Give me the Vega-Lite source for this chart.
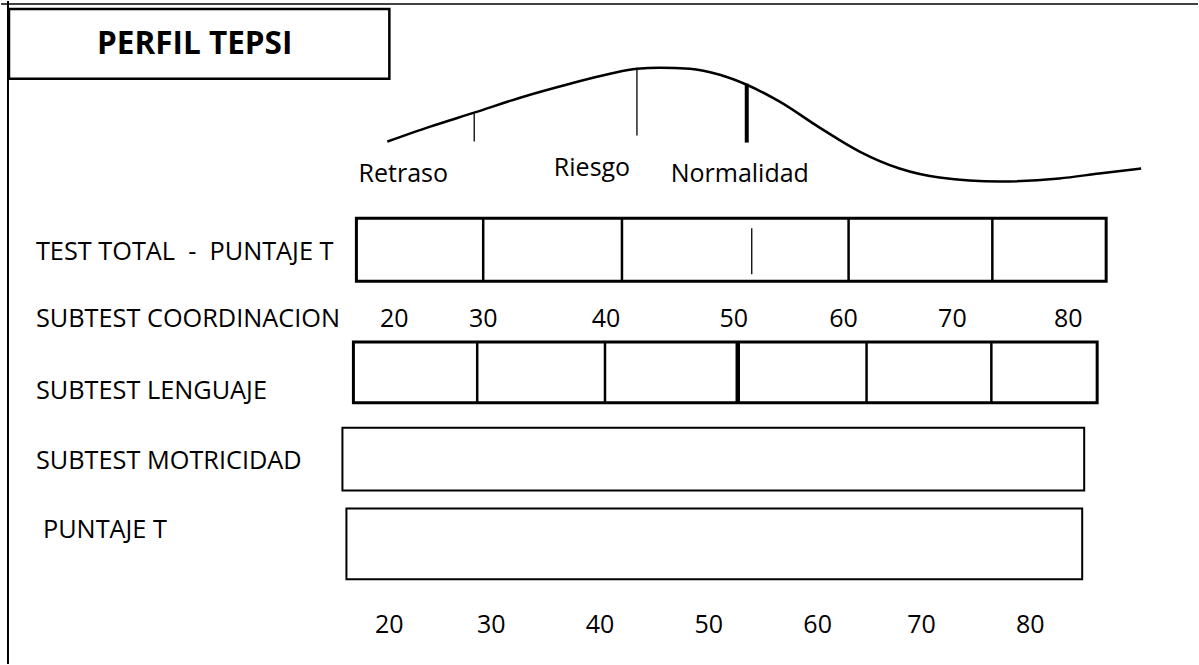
{
  "$schema": "https://vega.github.io/schema/vega-lite/v6.json",
  "width": 1199,
  "height": 665,
  "autosize": {"type": "fit", "contains": "padding"},
  "padding": 0,
  "background": "white",
  "config": {"view": {"stroke": null}},
  "datasets": {
    "boxes": [
      {"name": "title", "x": 8, "x2": 389, "y": 8, "y2": 78, "sw": 2.5},
      {"name": "total", "x": 356, "x2": 1107, "y": 218, "y2": 281, "sw": 3},
      {"name": "lenguaje", "x": 353, "x2": 1098, "y": 342, "y2": 403, "sw": 3},
      {"name": "motricidad", "x": 342, "x2": 1085, "y": 428, "y2": 491, "sw": 2},
      {"name": "puntaje", "x": 346, "x2": 1083, "y": 509, "y2": 580, "sw": 2}
    ],
    "rules": [
      {"x": 7, "x2": 7, "y": 0, "y2": 665, "sw": 2},
      {"x": 0, "x2": 1199, "y": 3, "y2": 3, "sw": 1.5},
      {"x": 483, "x2": 483, "y": 218, "y2": 281, "sw": 2.5},
      {"x": 622, "x2": 622, "y": 218, "y2": 281, "sw": 2.5},
      {"x": 849, "x2": 849, "y": 218, "y2": 281, "sw": 2.5},
      {"x": 993, "x2": 993, "y": 218, "y2": 281, "sw": 2.5},
      {"x": 752, "x2": 752, "y": 228, "y2": 274, "sw": 1.3},
      {"x": 477, "x2": 477, "y": 342, "y2": 403, "sw": 2.5},
      {"x": 605, "x2": 605, "y": 342, "y2": 403, "sw": 2.5},
      {"x": 738, "x2": 738, "y": 342, "y2": 403, "sw": 4.5},
      {"x": 867, "x2": 867, "y": 342, "y2": 403, "sw": 2.5},
      {"x": 992, "x2": 992, "y": 342, "y2": 403, "sw": 2.5},
      {"x": 474, "x2": 474, "y": 113, "y2": 141, "sw": 1.3},
      {"x": 637, "x2": 637, "y": 67, "y2": 135, "sw": 1.3},
      {"x": 747, "x2": 747, "y": 83, "y2": 142, "sw": 4}
    ],
    "curve": [
      {"x": 387, "y": 141}, {"x": 430, "y": 126}, {"x": 474, "y": 112},
      {"x": 520, "y": 97}, {"x": 570, "y": 83}, {"x": 610, "y": 73},
      {"x": 637, "y": 68}, {"x": 660, "y": 67}, {"x": 690, "y": 68},
      {"x": 720, "y": 74}, {"x": 747, "y": 84}, {"x": 780, "y": 101},
      {"x": 820, "y": 127}, {"x": 860, "y": 151}, {"x": 900, "y": 168},
      {"x": 940, "y": 177}, {"x": 1000, "y": 181}, {"x": 1060, "y": 178},
      {"x": 1100, "y": 173}, {"x": 1142, "y": 168}
    ],
    "labels": [
      {"text": "TEST TOTAL\u00a0\u00a0-\u00a0\u00a0PUNTAJE T", "x": 35, "y": 260},
      {"text": "SUBTEST COORDINACION", "x": 35, "y": 327},
      {"text": "SUBTEST LENGUAJE", "x": 35, "y": 399},
      {"text": "SUBTEST MOTRICIDAD", "x": 35, "y": 469},
      {"text": "PUNTAJE T", "x": 42, "y": 539}
    ],
    "centered": [
      {"text": "Retraso", "x": 403, "y": 182},
      {"text": "Riesgo", "x": 592, "y": 176},
      {"text": "Normalidad", "x": 740, "y": 182},
      {"text": "20", "x": 394, "y": 327},
      {"text": "30", "x": 483, "y": 327},
      {"text": "40", "x": 606, "y": 327},
      {"text": "50", "x": 734, "y": 327},
      {"text": "60", "x": 844, "y": 327},
      {"text": "70", "x": 953, "y": 327},
      {"text": "80", "x": 1069, "y": 327},
      {"text": "20", "x": 389, "y": 634},
      {"text": "30", "x": 491, "y": 634},
      {"text": "40", "x": 600, "y": 634},
      {"text": "50", "x": 709, "y": 634},
      {"text": "60", "x": 818, "y": 634},
      {"text": "70", "x": 922, "y": 634},
      {"text": "80", "x": 1031, "y": 634}
    ],
    "title": [
      {"text": "PERFIL TEPSI", "x": 194, "y": 53}
    ]
  },
  "layer": [
    {
      "data": {"name": "boxes"},
      "mark": {"type": "rect", "fillOpacity": 0, "stroke": "black"},
      "encoding": {
        "x": {"field": "x", "type": "quantitative", "scale": {"domain": [0, 1199], "nice": false, "zero": false}, "axis": null},
        "x2": {"field": "x2"},
        "y": {"field": "y", "type": "quantitative", "scale": {"domain": [0, 665], "nice": false, "zero": false, "reverse": true}, "axis": null},
        "y2": {"field": "y2"},
        "strokeWidth": {"field": "sw", "type": "quantitative", "scale": null}
      }
    },
    {
      "data": {"name": "rules"},
      "mark": {"type": "rule", "color": "black"},
      "encoding": {
        "x": {"field": "x", "type": "quantitative", "axis": null},
        "x2": {"field": "x2"},
        "y": {"field": "y", "type": "quantitative", "axis": null},
        "y2": {"field": "y2"},
        "strokeWidth": {"field": "sw", "type": "quantitative", "scale": null}
      }
    },
    {
      "data": {"name": "curve"},
      "mark": {"type": "line", "color": "black", "strokeWidth": 2.5, "interpolate": "monotone"},
      "encoding": {
        "x": {"field": "x", "type": "quantitative", "axis": null},
        "y": {"field": "y", "type": "quantitative", "axis": null}
      }
    },
    {
      "data": {"name": "labels"},
      "mark": {"type": "text", "align": "left", "baseline": "alphabetic", "font": "Open Sans", "fontSize": 25.3, "color": "black"},
      "encoding": {
        "x": {"field": "x", "type": "quantitative", "axis": null},
        "y": {"field": "y", "type": "quantitative", "axis": null},
        "text": {"field": "text"}
      }
    },
    {
      "data": {"name": "centered"},
      "mark": {"type": "text", "align": "center", "baseline": "alphabetic", "font": "Open Sans", "fontSize": 25, "color": "black"},
      "encoding": {
        "x": {"field": "x", "type": "quantitative", "axis": null},
        "y": {"field": "y", "type": "quantitative", "axis": null},
        "text": {"field": "text"}
      }
    },
    {
      "data": {"name": "title"},
      "mark": {"type": "text", "align": "center", "baseline": "alphabetic", "font": "Open Sans", "fontSize": 31.5, "fontWeight": "bold", "color": "black"},
      "encoding": {
        "x": {"field": "x", "type": "quantitative", "axis": null},
        "y": {"field": "y", "type": "quantitative", "axis": null},
        "text": {"field": "text"}
      }
    }
  ]
}
